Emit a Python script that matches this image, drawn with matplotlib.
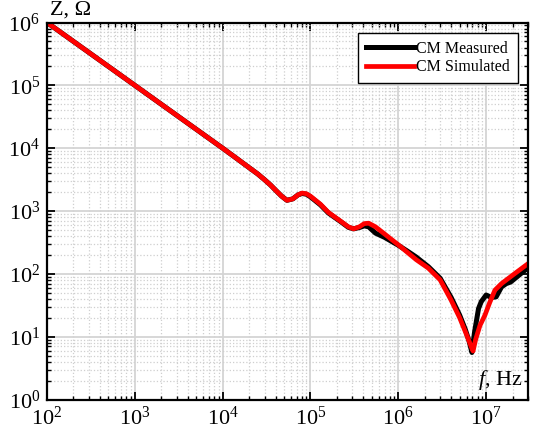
import numpy as np
import matplotlib
matplotlib.use("Agg")
import matplotlib.pyplot as plt
from matplotlib.ticker import LogLocator, NullFormatter

plt.rcParams['font.family'] = ['Liberation Serif', 'DejaVu Serif']
plt.rcParams['mathtext.fontset'] = 'custom'
plt.rcParams['mathtext.rm'] = 'Liberation Serif'
plt.rcParams['mathtext.it'] = 'Liberation Serif:italic'

# simulated curve
f_sim = [1e2, 1e3, 1e4, 1.5e4, 2e4, 2.5e4, 3e4, 3.5e4, 4e4, 4.7e4, 5.4e4, 6.3e4, 7.2e4,
         8e4, 9e4, 1e5, 1.3e5, 1.6e5, 2.2e5, 2.7e5, 3.1e5, 3.6e5, 4.1e5, 4.6e5,
         5.5e5, 7e5, 1e6, 1.6e6, 2.2e6, 3e6, 4e6, 5e6, 5.8e6, 6.4e6, 6.8e6,
         7.1e6, 7.6e6, 8.5e6, 9.7e6, 1.1e7, 1.26e7, 1.5e7, 1.8e7, 2.2e7, 2.6e7, 3e7]
z_sim = [1e6, 1e5, 1e4, 6.6e3, 4.9e3, 3.9e3, 3.15e3, 2.6e3, 2.15e3, 1.72e3, 1.48e3, 1.56e3, 1.8e3,
         1.93e3, 1.88e3, 1.72e3, 1.28e3, 950, 690, 560, 520, 560, 630, 640,
         560, 430, 290, 168, 123, 80, 38, 20, 12, 8.5, 6.8,
         5.9, 9, 15, 22, 35, 55, 70, 85, 105, 125, 145]

# measured curve
f_meas = [1e2, 1e3, 1e4, 1.5e4, 2e4, 2.5e4, 3e4, 3.5e4, 4e4, 4.7e4, 5.4e4, 6.3e4, 7.2e4,
          8e4, 9e4, 1e5, 1.3e5, 1.6e5, 2.2e5, 2.7e5, 3.1e5, 3.6e5, 4.1e5, 4.6e5,
          5.5e5, 7e5, 1e6, 1.3e6, 1.6e6, 2.2e6, 3e6, 4e6, 5e6, 5.8e6, 6.4e6,
          6.9e6, 7.4e6, 8.2e6, 8.8e6, 1e7, 1.15e7, 1.3e7, 1.5e7, 1.7e7, 1.9e7, 2.3e7, 3e7]
z_meas = [1e6, 1e5, 1e4, 6.6e3, 4.9e3, 3.9e3, 3.15e3, 2.6e3, 2.15e3, 1.72e3, 1.48e3, 1.56e3, 1.8e3,
          1.9e3, 1.85e3, 1.68e3, 1.25e3, 930, 680, 550, 520, 545, 580, 560,
          445, 380, 285, 225, 185, 130, 85, 42, 22, 13, 8.5,
          5.6, 12, 28, 36, 46, 42, 43, 62, 70, 74, 92, 125]

fig = plt.figure(figsize=(5.36, 4.24), dpi=100)
ax = fig.add_axes([47/536, 1 - 399.5/424, 481/536, 377/424])

ax.loglog(f_meas, z_meas, color='black', lw=3.6, solid_joinstyle='round',
          label='CM Measured')
ax.loglog(f_sim, z_sim, color='#ff0000', lw=3.4, solid_joinstyle='round',
          label='CM Simulated')

ax.set_xlim(1e2, 3e7)
ax.set_ylim(1e0, 1e6)
ax.xaxis.set_major_locator(LogLocator(base=10, numticks=12))
ax.xaxis.set_minor_locator(LogLocator(base=10, subs=np.arange(2, 10), numticks=12))
ax.yaxis.set_minor_locator(LogLocator(base=10, subs=np.arange(2, 10), numticks=12))
ax.xaxis.set_minor_formatter(NullFormatter())
ax.yaxis.set_minor_formatter(NullFormatter())

ax.grid(True, which='major', color='#d4d4d4', lw=1.3, ls='-')
ax.grid(True, which='minor', color='#cfcfcf', lw=0.9, ls=':')
ax.set_axisbelow(True)

ax.tick_params(which='both', direction='in', top=True, right=True,
               labelsize=16, colors='black')
ax.tick_params(which='major', length=6, width=1.3, pad=5)
ax.tick_params(which='minor', length=3, width=1.0)
for s in ax.spines.values():
    s.set_linewidth(1.6)

ax.text(0.006, 1.008, 'Z, \u03a9', transform=ax.transAxes, fontsize=16,
        ha='left', va='bottom')
ax.text(0.988, 0.02, '$f$, Hz', transform=ax.transAxes, fontsize=16,
        ha='right', va='bottom')

leg = ax.legend(loc='upper right', fontsize=11.5, frameon=True, fancybox=False,
                edgecolor='black', framealpha=1, handlelength=3.0,
                handletextpad=0.1, borderpad=0.5, labelspacing=0.15,
                borderaxespad=0.65)
leg.get_frame().set_linewidth(1.0)

fig.savefig('out.png', dpi=100)
